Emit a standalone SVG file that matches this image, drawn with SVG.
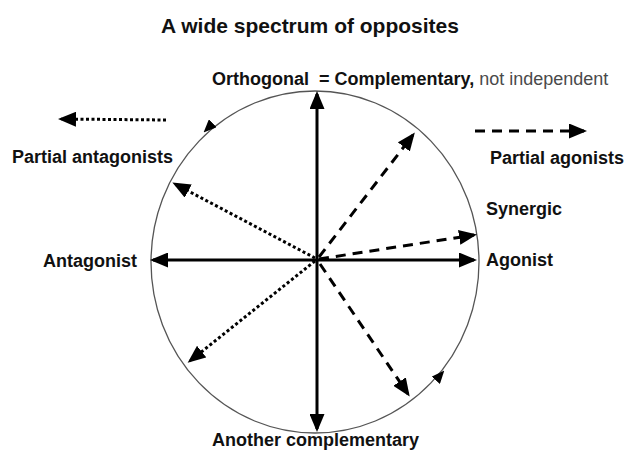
<svg xmlns="http://www.w3.org/2000/svg" width="624" height="451" viewBox="0 0 624 451">
<style>
text{font-family:"Liberation Sans",Arial,sans-serif;fill:#111}
.lb{font-weight:bold;font-size:18px}
.ttl{font-weight:bold;font-size:21px}
.rg{font-size:18px;fill:#4a4a4a}
.solid{stroke:#000;stroke-width:3;fill:none}
.dash{stroke:#000;stroke-width:3;fill:none;stroke-dasharray:10 7}
.dot{stroke:#000;stroke-width:3;fill:none;stroke-dasharray:3 2.5}
</style>
<defs>
<marker id="ah" markerUnits="userSpaceOnUse" markerWidth="18" markerHeight="15" viewBox="0 0 18 15" refX="15" refY="7.5" orient="auto-start-reverse">
<path d="M0,0 L18,7.5 L0,15 Z" fill="#000"/>
</marker>
<marker id="sm" markerUnits="userSpaceOnUse" markerWidth="13" markerHeight="11" viewBox="0 0 13 11" refX="11" refY="5.5" orient="auto">
<path d="M0,0 L13,5.5 L0,11 Z" fill="#000"/>
</marker>
</defs>
<rect width="624" height="451" fill="#fff"/>
<g id="title"><text class="ttl" x="310" y="33" text-anchor="middle">A wide spectrum of opposites</text></g>
<g id="circle"><ellipse cx="315" cy="262" rx="164" ry="171" fill="none" stroke="#555" stroke-width="1.3"/></g>
<g id="connectors">
<line class="solid" x1="317" y1="94" x2="317" y2="429" marker-start="url(#ah)" marker-end="url(#ah)"/>
<line class="solid" x1="153" y1="260" x2="474" y2="260" marker-start="url(#ah)" marker-end="url(#ah)"/>
<line class="dash" x1="319" y1="257" x2="413" y2="135" marker-end="url(#ah)"/>
<line class="dash" x1="319" y1="259" x2="474" y2="235" marker-end="url(#ah)"/>
<line class="dash" x1="320" y1="264" x2="408" y2="394" marker-end="url(#ah)"/>
<line class="dot" x1="315" y1="258" x2="175" y2="184" marker-end="url(#ah)"/>
<line class="dot" x1="315" y1="261" x2="190" y2="361" marker-end="url(#ah)"/>
<path d="M214,122 L205,131" fill="none" stroke="none" marker-end="url(#sm)"/>
<path d="M436,380 L443,372" fill="none" stroke="none" marker-end="url(#sm)"/>
<line class="dot" x1="166" y1="120" x2="61" y2="119" marker-end="url(#ah)"/>
<line class="dash" x1="475" y1="131" x2="584" y2="131" marker-end="url(#ah)"/>
</g>
<g id="orthogonal"><text x="212" y="85" xml:space="preserve"><tspan class="lb">Orthogonal  = Complementary,</tspan><tspan class="rg"> not independent</tspan></text></g>
<g id="partial-antagonists"><text class="lb" x="12" y="163">Partial antagonists</text></g>
<g id="partial-agonists"><text class="lb" x="490" y="164">Partial agonists</text></g>
<g id="synergic"><text class="lb" x="486" y="215">Synergic</text></g>
<g id="agonist"><text class="lb" x="486" y="266">Agonist</text></g>
<g id="antagonist"><text class="lb" x="43" y="267">Antagonist</text></g>
<g id="another"><text class="lb" x="212" y="446">Another complementary</text></g>
</svg>
